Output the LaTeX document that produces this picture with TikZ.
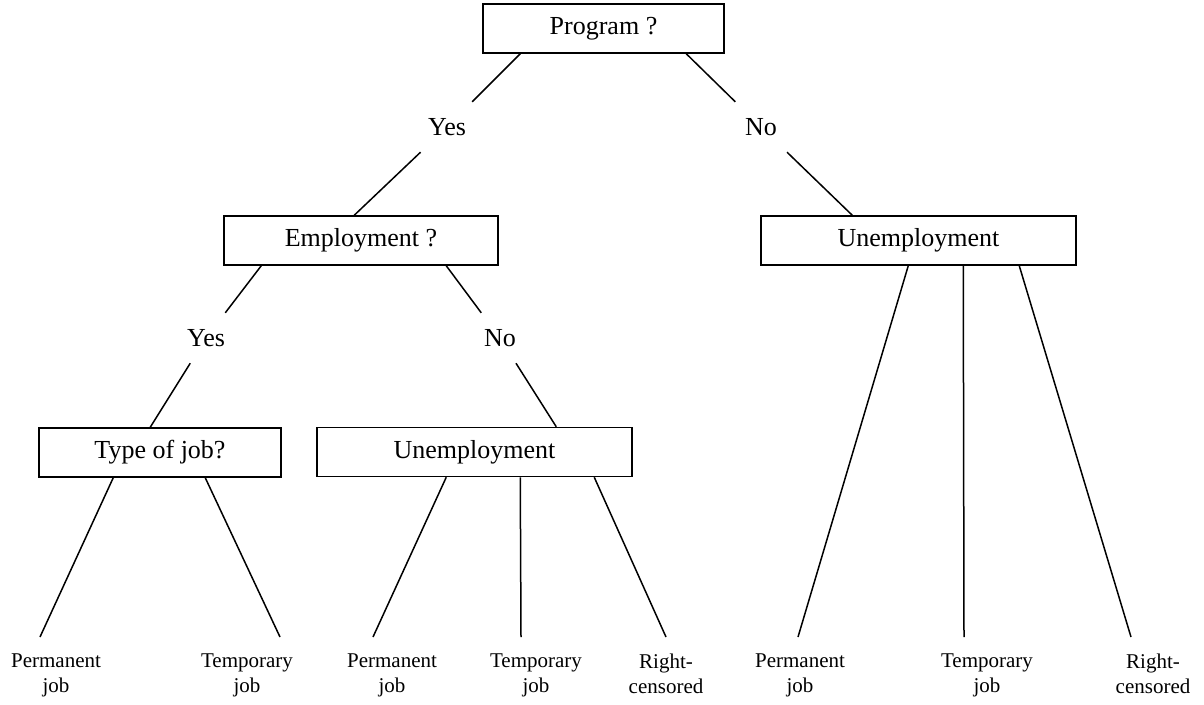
\documentclass[tikz,border=0pt]{standalone}
\usepackage{fontspec}
\setmainfont{Liberation Serif}
\begin{document}
\begin{tikzpicture}[x=1pt,y=-1pt,
  box/.style={draw, line width=1.5pt, minimum height=49pt, inner sep=0pt, font=\fontsize{26}{30}\selectfont},
  lbl/.style={inner sep=0pt, minimum height=50pt, minimum width=60pt, font=\fontsize{26}{30}\selectfont},
  leaf/.style={inner sep=0pt, align=center, anchor=north, font=\fontsize{21}{25}\selectfont},
  conn/.style={line width=1.5pt}]
\useasboundingbox (0,0) rectangle (1204,704);

% boxes
\node[box, minimum width=241pt] (prog) at (603.5,28.5) {Program ?};
\node[box, minimum width=274pt] (emp) at (361,240.5) {Employment ?};
\node[box, minimum width=315pt] (unR) at (918.5,240.5) {Unemployment};
\node[box, minimum width=242pt] (type) at (160,452.5) {Type of job?};
\node[box, minimum width=315pt] (unM) at (474.5,452) {Unemployment};

% branch labels
\node[lbl] (yes1) at (447,127) {Yes};
\node[lbl] (no1) at (761,127) {No};
\node[lbl] (yes2) at (206,338) {Yes};
\node[lbl] (no2) at (500,338) {No};

% leaf end points
\coordinate (e1) at (40,637);
\coordinate (e2) at (280,637);
\coordinate (e3) at (373,637);
\coordinate (e4) at (521,637);
\coordinate (e5) at (666,637);
\coordinate (e6) at (798,637);
\coordinate (e7) at (964,637);
\coordinate (e8) at (1131,637);

% leaf labels
\node[leaf] (l1) at (56,654) {Permanent\\job};
\node[leaf] (l2) at (247,654) {Temporary\\job};
\node[leaf] (l3) at (392,654) {Permanent\\job};
\node[leaf] (l4) at (536,654) {Temporary\\job};
\node[leaf] (l5) at (666,654) {Right-\\censored};
\node[leaf] (l6) at (800,654) {Permanent\\job};
\node[leaf] (l7) at (987,654) {Temporary\\job};
\node[leaf] (l8) at (1153,654) {Right-\\censored};

% connectors
\draw[conn] ([xshift=38pt]prog.south west) -- (yes1);
\draw[conn] (yes1) -- ([xshift=131pt]emp.north west);
\draw[conn] ([xshift=204pt]prog.south west) -- (no1);
\draw[conn] (no1) -- ([xshift=92pt]unR.north west);

\draw[conn] ([xshift=38pt]emp.south west) -- (yes2);
\draw[conn] (yes2) -- ([xshift=112pt]type.north west);
\draw[conn] ([xshift=223pt]emp.south west) -- (no2);
\draw[conn] (no2) -- ([xshift=240pt]unM.north west);

\draw[conn] ([xshift=75pt]type.south west) -- (e1);
\draw[conn] ([xshift=167pt]type.south west) -- (e2);

\draw[conn] ([xshift=130pt]unM.south west) -- (e3);
\draw[conn] ([xshift=204pt]unM.south west) -- (e4);
\draw[conn] ([xshift=278pt]unM.south west) -- (e5);

\draw[conn] ([xshift=148pt]unR.south west) -- (e6);
\draw[conn] ([xshift=203pt]unR.south west) -- (e7);
\draw[conn] ([xshift=259pt]unR.south west) -- (e8);
\end{tikzpicture}
\end{document}
